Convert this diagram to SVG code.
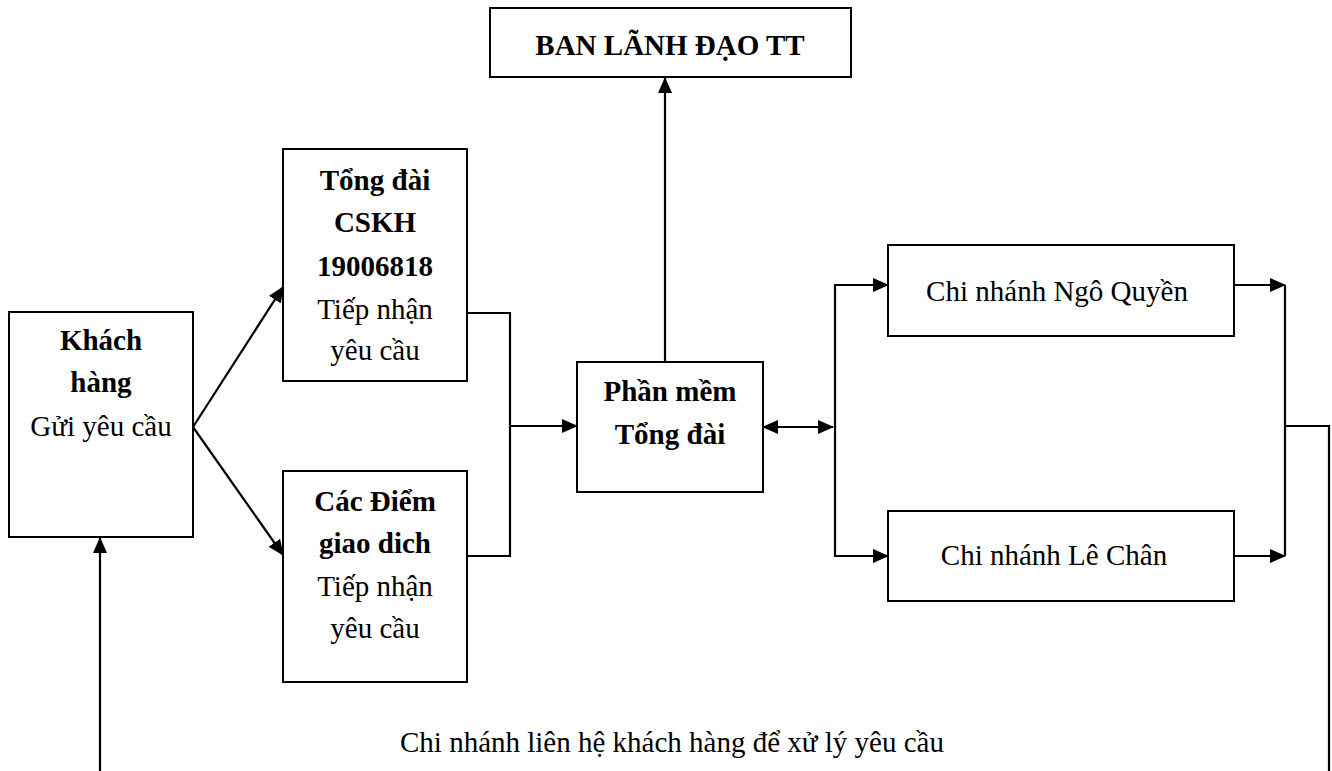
<svg xmlns="http://www.w3.org/2000/svg" width="1332" height="771" viewBox="0 0 1332 771">
<style>
.box{fill:#fff;stroke:#000;stroke-width:2}
.t{font-family:"Liberation Serif","Times New Roman",serif;font-size:29px;fill:#000;text-anchor:middle}
.b{font-weight:bold}
.c{fill:none;stroke:#000;stroke-width:2.2}
</style>
<defs>
<marker id="ah" markerUnits="userSpaceOnUse" markerWidth="16" markerHeight="14" refX="15" refY="7" orient="auto-start-reverse" viewBox="0 0 16 14">
<path d="M0,0 L16,7 L0,14 z" fill="#000"/>
</marker>
</defs>
<rect width="1332" height="771" fill="#fff"/>
<g id="connectors">
<path class="c" d="M193,427 L283,287" marker-end="url(#ah)"/>
<path class="c" d="M193,427 L283,555" marker-end="url(#ah)"/>
<path class="c" d="M467,313 H510 V556 H467"/>
<path class="c" d="M510,426 H577" marker-end="url(#ah)"/>
<path class="c" d="M665,362 V78" marker-end="url(#ah)"/>
<path class="c" d="M763,427 H833" marker-start="url(#ah)" marker-end="url(#ah)"/>
<path class="c" d="M888,285 H835 V556 H888" marker-start="url(#ah)" marker-end="url(#ah)"/>
<path class="c" d="M1234,285 H1285" marker-end="url(#ah)"/>
<path class="c" d="M1234,556 H1285" marker-end="url(#ah)"/>
<path class="c" d="M1285,285 V556"/>
<path class="c" d="M1285,426 H1329 V771"/>
<path class="c" d="M100,771 V538" marker-end="url(#ah)"/>
</g>
<g id="ban-lanh-dao">
<rect class="box" x="490" y="8" width="361" height="69"/>
<text class="t b" x="670" y="55">BAN LÃNH ĐẠO TT</text>
</g>
<g id="khach-hang">
<rect class="box" x="9" y="312" width="184" height="225"/>
<text class="t b" x="101" y="350">Khách</text>
<text class="t b" x="101" y="392">hàng</text>
<text class="t" x="101" y="436">Gửi yêu cầu</text>
</g>
<g id="tong-dai-cskh">
<rect class="box" x="283" y="149" width="184" height="232"/>
<text class="t b" x="375" y="190">Tổng đài</text>
<text class="t b" x="375" y="232">CSKH</text>
<text class="t b" x="375" y="276">19006818</text>
<text class="t" x="375" y="319">Tiếp nhận</text>
<text class="t" x="375" y="360">yêu cầu</text>
</g>
<g id="cac-diem-giao-dich">
<rect class="box" x="283" y="471" width="184" height="211"/>
<text class="t b" x="375" y="511">Các Điểm</text>
<text class="t b" x="375" y="553">giao dich</text>
<text class="t" x="375" y="596">Tiếp nhận</text>
<text class="t" x="375" y="638">yêu cầu</text>
</g>
<g id="phan-mem-tong-dai">
<rect class="box" x="577" y="362" width="186" height="130"/>
<text class="t b" x="670" y="401">Phần mềm</text>
<text class="t b" x="670" y="444">Tổng đài</text>
</g>
<g id="chi-nhanh-ngo-quyen">
<rect class="box" x="888" y="245" width="346" height="91"/>
<text class="t" x="1057" y="301">Chi nhánh Ngô Quyền</text>
</g>
<g id="chi-nhanh-le-chan">
<rect class="box" x="888" y="511" width="346" height="90"/>
<text class="t" x="1054" y="565">Chi nhánh Lê Chân</text>
</g>
<text class="t" x="672" y="752">Chi nhánh liên hệ khách hàng để xử lý yêu cầu</text>
</svg>
